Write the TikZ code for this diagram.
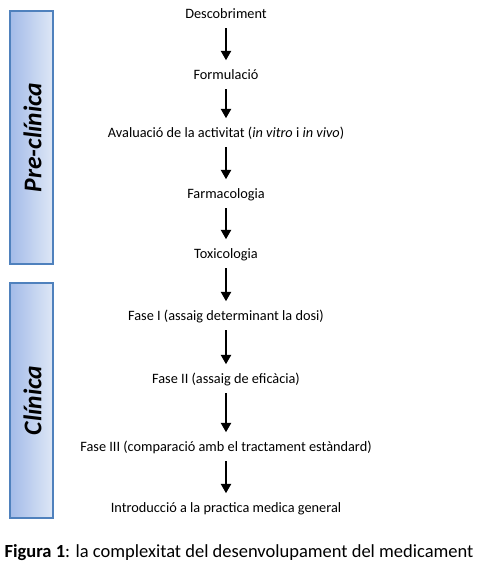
\documentclass[tikz,border=0pt]{standalone}
\usepackage{fontspec}
\setmainfont{Carlito}
\usetikzlibrary{arrows.meta}
\definecolor{boxborder}{HTML}{4F81BD}
\definecolor{boxleft}{HTML}{A3BBE8}
\definecolor{boxright}{HTML}{DEE7F6}
\tikzset{
  stage/.style={inner sep=0pt, text height=10pt, text depth=3pt, font=\fontsize{14.3}{17}\selectfont},
  flow/.style={line width=2.7pt, -{Triangle[length=9.5pt,width=10pt]}, shorten <=6.5pt, shorten >=9pt},
  phasebox/.style={draw=boxborder, line width=1.1pt, left color=boxleft, right color=boxright},
  phaselabel/.style={rotate=90, font=\fontsize{25.5}{28}\selectfont\bfseries\itshape, inner sep=0pt},
}
\begin{document}
\begin{tikzpicture}[x=1pt,y=-1pt]
\useasboundingbox (0,0) rectangle (485,576);
\fill[white] (0,0) rectangle (485,576);
% phase boxes
\path[phasebox] (10,11) rectangle (53,264);
\path[phasebox] (10,283) rectangle (53,518);
\node[phaselabel] (pre) at (32.5,137.5) {Pre-clínica};
\node[phaselabel] (cli) at (32.5,400.5) {Clínica};
% stages
\node[stage] (s1) at (226,15) {Descobriment};
\node[stage] (s2) at (226,76) {Formulació};
\node[stage] (s3) at (226,134) {Avaluació de la activitat (\textit{in vitro} i \textit{in vivo})};
\node[stage] (s4) at (226,195) {Farmacologia};
\node[stage] (s5) at (226,255) {Toxicologia};
\node[stage] (s6) at (226,317) {Fase I (assaig determinant la dosi)};
\node[stage] (s7) at (226,380) {Fase II (assaig de eficàcia)};
\node[stage] (s8) at (226,448) {Fase III (comparació amb el tractament estàndard)};
\node[stage] (s9) at (226,509) {Introducció a la practica medica general};
% arrows
\foreach \a/\b in {s1/s2,s2/s3,s3/s4,s4/s5,s5/s6,s6/s7,s7/s8,s8/s9}
  \draw[flow] (\a) -- (\b);
% caption
\node[inner sep=0pt, font=\fontsize{18.5}{21}\selectfont] (cap) at (239,553) {\textbf{Figura 1}: la complexitat del desenvolupament del medicament};
\end{tikzpicture}
\end{document}
